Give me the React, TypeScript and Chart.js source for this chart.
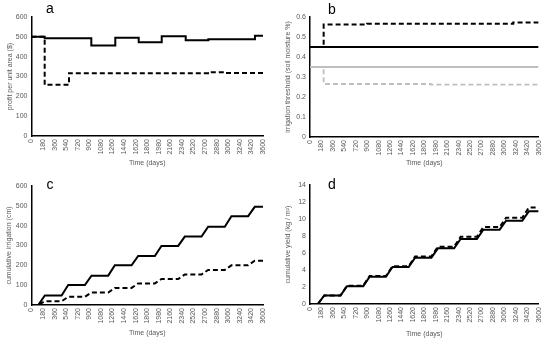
import React, { useEffect, useRef } from "react";
import { Chart, registerables } from "chart.js";

Chart.register(...registerables);

const FONT = '"Liberation Sans", Arial, sans-serif';
const TICK_COLOR = "#595959";

const xTicks = [0, 180, 360, 540, 720, 900, 1080, 1260, 1440, 1620, 1800, 1980, 2160, 2340, 2520, 2700, 2880, 3060, 3240, 3420, 3600];
const yTicksA = [0, 100, 200, 300, 400, 500, 600];
const yTicksB = [0, 0.1, 0.2, 0.3, 0.4, 0.5, 0.6];
const yTicksC = [0, 100, 200, 300, 400, 500, 600];
const yTicksD = [0, 2, 4, 6, 8, 10, 12, 14];

// Panel a: profit per unit area (step changes)
const aSolidDays = [0, 205, 930, 1303, 1667, 2025, 2398, 2750, 3475, 3600];
const aSolidVals = [500, 493, 456, 496, 473, 503, 483, 488, 505, 505];
const aDashDays = [0, 205, 583, 2745, 3010, 3600];
const aDashVals = [500, 258, 317, 322, 318, 318];

// Panel b: irrigation threshold
const bBlackSolidDays = [0, 3600];
const bBlackSolidVals = [0.45, 0.45];
const bBlackDashDays = [0, 215, 900, 3200, 3600];
const bBlackDashVals = [0.45, 0.562, 0.566, 0.572, 0.572];
const bGraySolidDays = [0, 3600];
const bGraySolidVals = [0.35, 0.35];
const bGrayDashDays = [0, 215, 1900, 3600];
const bGrayDashVals = [0.35, 0.265, 0.262, 0.259];

// Panel c: cumulative irrigation
const cDays = [0, 105, 208, 468, 571, 830, 933, 1193, 1296, 1556, 1659, 1918, 2021, 2281, 2384, 2644, 2747, 3006, 3109, 3369, 3472, 3600];
const cSolid = [0, 0, 48, 48, 101, 101, 148, 148, 200, 200, 247, 247, 298, 298, 345, 345, 395, 395, 448, 448, 495, 495];
const cDashed = [0, 0, 19, 19, 41, 41, 63, 63, 86, 86, 109, 109, 131, 131, 154, 154, 177, 177, 200, 200, 223, 223];

// Panel d: cumulative yield
const dDays = [0, 123, 225, 480, 583, 838, 940, 1196, 1299, 1554, 1656, 1912, 2014, 2270, 2372, 2628, 2730, 2986, 3088, 3343, 3446, 3600];
const dSolid = [0, 0, 1.0, 1.0, 2.1, 2.1, 3.2, 3.2, 4.35, 4.35, 5.45, 5.45, 6.55, 6.55, 7.65, 7.65, 8.75, 8.75, 9.8, 9.8, 10.9, 10.9];
const dDashed = [0, 0, 1.0, 1.0, 2.15, 2.15, 3.3, 3.3, 4.45, 4.45, 5.6, 5.6, 6.75, 6.75, 7.9, 7.9, 9.05, 9.05, 10.15, 10.15, 11.35, 11.35];

const pts = (xs: number[], ys: number[]) => xs.map((x, i) => ({ x, y: ys[i] }));

type Spec = {
  left: number; top: number; w: number; h: number;
  padRight: number; padTop: number; yw: number; xh: number;
  yMax: number; yTicks: number[]; yTitle: string;
  yTitlePad: number; xTitlePad: number;
  datasets: any[];
};

function line(data: any[], color: string, dashed: boolean, stepped: boolean, width = 2) {
  return {
    data,
    borderColor: color,
    borderWidth: width,
    borderDash: dashed ? [5, 3] : [],
    pointRadius: 0,
    fill: false,
    tension: 0,
    stepped: stepped ? "before" : false,
  };
}

const specs: Spec[] = [
  {
    left: 0, top: 0, w: 275, h: 170, padRight: 12, padTop: 17, yw: 31.5, xh: 34,
    yMax: 600, yTicks: yTicksA, yTitle: "profit per unit area ($)", yTitlePad: 6, xTitlePad: 3,
    datasets: [
      line(pts(aSolidDays, aSolidVals), "#000", false, true),
      line(pts(aDashDays, aDashVals), "#000", true, true),
    ],
  },
  {
    left: 275, top: 0, w: 275, h: 170, padRight: 6, padTop: 17, yw: 35, xh: 33,
    yMax: 0.6, yTicks: yTicksB, yTitle: "irrigation threshold (soil moisture %)", yTitlePad: 8.5, xTitlePad: 3,
    datasets: [
      line(pts(bGraySolidDays, bGraySolidVals), "#bfbfbf", false, true, 1.8),
      line(pts(bGrayDashDays, bGrayDashVals), "#bfbfbf", true, true, 1.8),
      line(pts(bBlackSolidDays, bBlackSolidVals), "#000", false, true),
      line(pts(bBlackDashDays, bBlackDashVals), "#000", true, true),
    ],
  },
  {
    left: 0, top: 170, w: 275, h: 169, padRight: 12, padTop: 16, yw: 31.5, xh: 34,
    yMax: 600, yTicks: yTicksC, yTitle: "cumulative irrigation (cm)", yTitlePad: 5, xTitlePad: 2,
    datasets: [
      line(pts(cDays, cSolid), "#000", false, false),
      line(pts(cDays, cDashed), "#000", true, false),
    ],
  },
  {
    left: 275, top: 170, w: 275, h: 169, padRight: 6, padTop: 15, yw: 35, xh: 35,
    yMax: 14, yTicks: yTicksD, yTitle: "cumulative yield (kg / m²)", yTitlePad: 8.5, xTitlePad: 1,
    datasets: [
      line(pts(dDays, dSolid), "#000", false, false),
      line(pts(dDays, dDashed), "#000", true, false),
    ],
  },
];

const letters = [
  { t: "a", x: 46, y: 1 },
  { t: "b", x: 328, y: 1.5 },
  { t: "c", x: 46.5, y: 176.5 },
  { t: "d", x: 328, y: 176.5 },
];

function Panel({ spec }: { spec: Spec }) {
  const ref = useRef<HTMLCanvasElement | null>(null);
  useEffect(() => {
    if (!ref.current) return;
    const font = { size: 7, family: FONT };
    const chart = new Chart(ref.current, {
      type: "line",
      data: { datasets: spec.datasets },
      options: {
        animation: false,
        responsive: false,
        devicePixelRatio: 1,
        layout: { padding: { left: 0, right: spec.padRight, top: spec.padTop, bottom: 0 } },
        plugins: { legend: { display: false }, tooltip: { enabled: false } },
        scales: {
          x: {
            type: "linear",
            min: 0,
            max: 3600,
            grid: { display: false, drawTicks: false, tickLength: 0 },
            border: { display: true, color: "#000", width: 1.5 },
            afterBuildTicks: (s: any) => { s.ticks = xTicks.map((v) => ({ value: v })); },
            afterFit: (s: any) => { s.height = spec.xh; },
            ticks: {
              autoSkip: false,
              maxRotation: 90,
              minRotation: 90,
              padding: 3,
              color: TICK_COLOR,
              font,
              callback: (v: any) => String(v),
            },
            title: {
              display: true,
              text: "Time (days)",
              color: TICK_COLOR,
              font,
              padding: { top: 0, bottom: spec.xTitlePad },
            },
          },
          y: {
            type: "linear",
            min: 0,
            max: spec.yMax,
            grid: { display: false, drawTicks: false, tickLength: 0 },
            border: { display: true, color: "#000", width: 1.5 },
            afterBuildTicks: (s: any) => { s.ticks = spec.yTicks.map((v) => ({ value: v })); },
            afterFit: (s: any) => { s.width = spec.yw; },
            ticks: {
              padding: 4,
              color: TICK_COLOR,
              font,
              callback: (v: any) => String(v),
            },
            title: {
              display: true,
              text: spec.yTitle,
              color: TICK_COLOR,
              font,
              padding: { top: spec.yTitlePad, bottom: 0 },
            },
          },
        },
      } as any,
    });
    return () => chart.destroy();
  }, [spec]);
  return (
    <canvas
      ref={ref}
      width={spec.w}
      height={spec.h}
      style={{ position: "absolute", left: spec.left, top: spec.top, width: spec.w, height: spec.h }}
    />
  );
}

export default function App() {
  return (
    <div style={{ position: "absolute", left: 0, top: 0, width: 550, height: 339, background: "#fff", overflow: "hidden" }}>
      {specs.map((s, i) => (
        <Panel key={i} spec={s} />
      ))}
      {letters.map((l) => (
        <div
          key={l.t}
          style={{ position: "absolute", left: l.x, top: l.y, fontFamily: FONT, fontSize: 14, lineHeight: 1, color: "#000" }}
        >
          {l.t}
        </div>
      ))}
    </div>
  );
}
